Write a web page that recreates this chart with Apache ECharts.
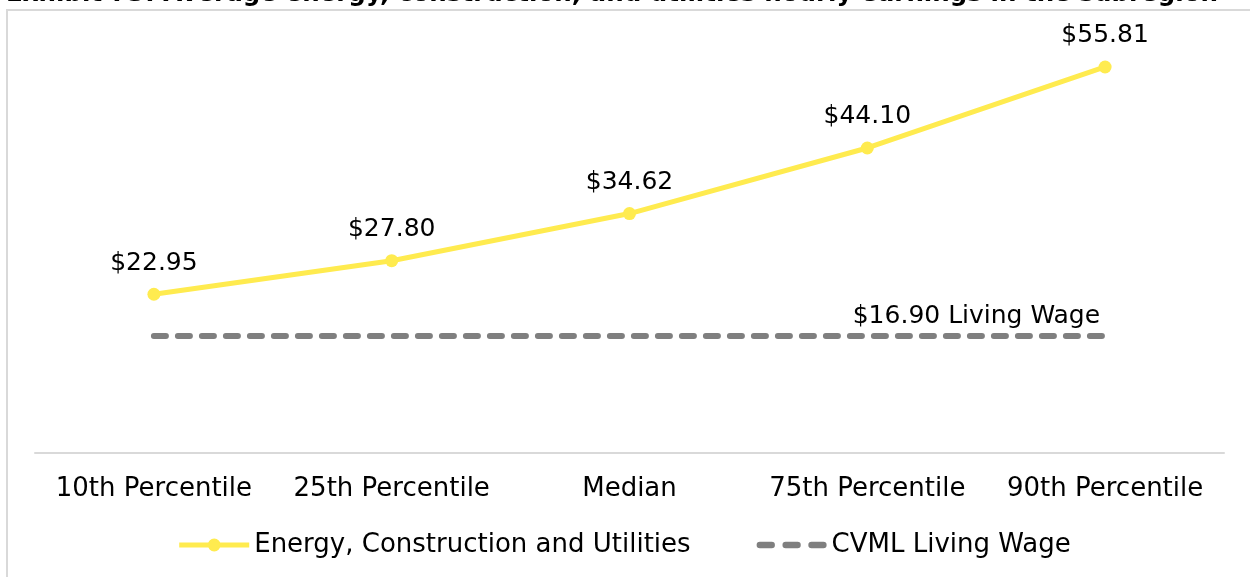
<!DOCTYPE html>
<html>
<head>
<meta charset="utf-8">
<script src="https://cdn.jsdelivr.net/npm/echarts@6/dist/echarts.min.js"></script>
<style>
  html, body { margin: 0; padding: 0; background: #fff; }
  #chart { width: 1250px; height: 577px; }
</style>
</head>
<body>
<div id="chart"></div>
<script>
// Hourly earnings by percentile, energy / construction / utilities sector
const categories = ['10th Percentile', '25th Percentile', 'Median', '75th Percentile', '90th Percentile'];
const earnings = [22.95, 27.80, 34.62, 44.10, 55.81];
const livingWage = [16.90, 16.90, 16.90, 16.90, 16.90];
const seriesNames = ['Energy, Construction and Utilities', 'CVML Living Wage'];
const titleText = 'Exhibit 73: Average energy, construction, and utilities hourly earnings in the subregion';

const FONT = '"DejaVu Sans", sans-serif';
const FS = 25;
const FS_AXIS = 26;
const YELLOW = '#ffeb4f';
const GREY = '#7f7f7f';

// Fit the bold heading to a fixed span
const TITLE_SPAN = 1212;
const ctx = document.createElement('canvas').getContext('2d');
ctx.font = 'bold 24px ' + FONT;
const titleSize = Math.min(26, 24 * TITLE_SPAN / ctx.measureText(titleText).width);

// Legend icons: solid line with a dot, and three rounded dashes
const lineDotIcon = 'path://M0 4.5H29V9.5H0Z M41 4.5H70V9.5H41Z M28.5 7A6.5 6.5 0 1 1 41.5 7A6.5 6.5 0 1 1 28.5 7Z M28 4.5H42V9.5H28Z';
const dashIcon = 'path://M3 0H14A3 3 0 0 1 14 6H3A3 3 0 0 1 3 0Z M27 0H38A3 3 0 0 1 38 6H27A3 3 0 0 1 27 0Z M51 0H62A3 3 0 0 1 62 6H51A3 3 0 0 1 51 0Z';

const chart = echarts.init(document.getElementById('chart'));

chart.setOption({
  animation: false,
  textStyle: { fontFamily: FONT },
  graphic: [
    {
      type: 'rect',
      shape: { x: 7, y: 10, width: 1260, height: 600 },
      style: { fill: 'none', stroke: '#d9d9d9', lineWidth: 2 },
      z: -1
    },
    {
      type: 'text',
      x: 6,
      y: 7,
      style: {
        text: titleText,
        font: 'bold ' + titleSize.toFixed(2) + 'px ' + FONT,
        fill: '#000',
        verticalAlign: 'bottom'
      }
    }
  ],
  grid: { left: 35, right: 26, top: 38, bottom: 124, containLabel: false },
  legend: {
    bottom: 14,
    left: 'center',
    itemWidth: 70,
    itemHeight: 14,
    itemGap: 66,
    symbolKeepAspect: true,
    textStyle: { fontSize: FS_AXIS, color: '#000', fontFamily: FONT },
    data: [
      { name: seriesNames[0], icon: lineDotIcon, itemStyle: { color: YELLOW } },
      { name: seriesNames[1], icon: dashIcon, itemStyle: { color: GREY } }
    ]
  },
  xAxis: {
    type: 'category',
    data: categories,
    boundaryGap: true,
    axisLine: { lineStyle: { color: '#d9d9d9', width: 2 } },
    axisTick: { show: false },
    axisLabel: { interval: 0, fontSize: FS_AXIS, color: '#000', margin: 23, fontFamily: FONT }
  },
  yAxis: {
    type: 'value',
    min: 0,
    max: 60,
    show: false,
    splitLine: { show: false }
  },
  series: [
    {
      name: seriesNames[0],
      type: 'line',
      data: earnings,
      color: YELLOW,
      symbol: 'circle',
      symbolSize: 13,
      lineStyle: { width: 5, color: YELLOW },
      itemStyle: { color: YELLOW },
      label: {
        show: true,
        position: 'top',
        distance: 12,
        fontSize: FS,
        color: '#000',
        fontFamily: FONT,
        formatter: p => '$' + p.value.toFixed(2)
      },
      z: 3
    },
    {
      name: seriesNames[1],
      type: 'line',
      data: livingWage.map((v, i) => i === livingWage.length - 1
        ? {
            value: v,
            label: {
              show: true,
              position: 'top',
              align: 'right',
              distance: 7,
              offset: [-5, 0],
              fontSize: FS,
              color: '#000',
              fontFamily: FONT,
              formatter: p => '$' + p.value.toFixed(2) + ' Living Wage'
            }
          }
        : v),
      color: GREY,
      symbol: 'circle',
      symbolSize: 0,
      showSymbol: true,
      lineStyle: { width: 6, color: GREY, type: [12, 12], cap: 'round' },
      itemStyle: { color: GREY },
      z: 2
    }
  ]
});
</script>
</body>
</html>
